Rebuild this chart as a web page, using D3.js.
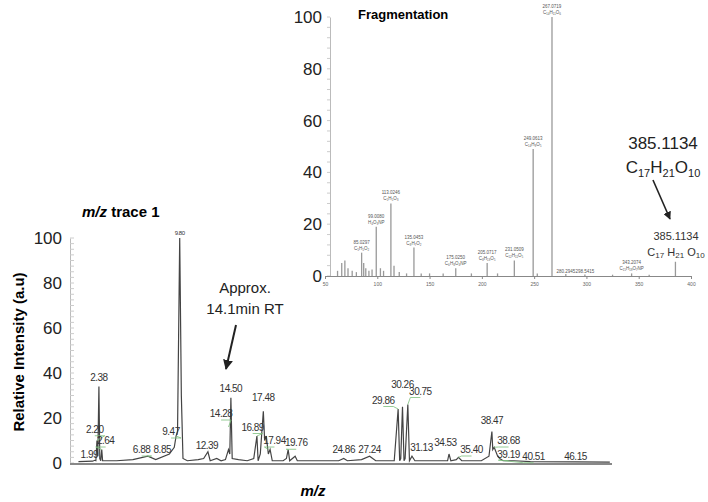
<!DOCTYPE html>
<html><head><meta charset="utf-8">
<script src="https://cdn.jsdelivr.net/npm/d3@7"></script>
<style>body{margin:0;background:#fff}svg{font-family:Arial,"Liberation Sans",sans-serif}</style>
</head><body>
<svg id="c" width="708" height="502"></svg>
<script>
// main chromatogram trace: [retention time, relative intensity]
var trace = [[0.5,0.6],[1.8,0.8],[1.99,1.2],[2.1,1],[2.2,10],[2.28,3],[2.38,34],[2.46,2],[2.55,1],[2.64,6],[2.72,1],
  [4,1],[5.5,1.5],[6.88,3],[7.6,1.5],[8.85,4],[9.3,7],[9.47,12],[9.6,14],[9.8,100],[9.95,30],[10.1,2],[10.5,1],
  [11.5,1.5],[12,2],[12.39,5],[12.6,1],[13.2,2],[13.6,1],[14.0,1.5],[14.28,6],[14.4,4],[14.5,29],[14.62,2],[15.2,1.5],
  [16,1],[16.6,2],[16.89,12],[17.0,1],[17.2,4],[17.48,23],[17.6,10],[17.75,12],[17.94,4],[18.1,6],[18.3,1],[19.3,1],
  [19.6,2],[19.76,6],[19.9,1],[20.4,3],[20.6,1],[23,1],[24.4,1],[24.86,2],[25.2,1],[26.5,1.5],[27.24,3],[27.8,1],
  [29.5,1],[29.86,24],[30.0,1],[30.1,2],[30.26,25],[30.4,1],[30.5,2],[30.75,26],[30.9,1],[31.13,3],[31.4,1],
  [33.5,1],[34.4,1],[34.53,4],[34.7,1],[35.2,1.5],[35.4,2.5],[35.7,1],[37.5,1],[38.2,3],[38.47,14],[38.55,6],
  [38.68,7],[39.0,3],[39.19,2],[39.5,1],[40.51,1],[42,0.6],[46.15,0.5],[49.3,0.4]];

// peak labels: [time, label height, text, leader to (time, value) or null]
var peakLabels = [[1.5,2,"1.99",null],[2.0,13,"2.20",[2.2,10]],[2.38,36,"2.38",null],[3.0,8,"2.64",[2.64,6]],
  [6.3,4,"6.88",[6.88,3]],[8.2,4,"8.85",null],[9.0,12,"9.47",[9.47,12]],[9.8,101,"9.80",null],[12.3,6,"12.39",null],
  [13.6,20,"14.28",[14.28,16]],[14.5,31,"14.50",null],[16.5,14,"16.89",[16.89,12]],[17.48,27,"17.48",null],
  [18.5,8,"17.94",[17.94,6]],[20.5,7,"19.76",[19.76,6]],[24.86,4,"24.86",null],[27.24,4,"27.24",null],
  [28.5,26,"29.86",[29.86,24]],[30.26,33,"30.26",null],[31.9,30,"30.75",[30.75,26]],[32.0,5,"31.13",null],
  [34.2,7,"34.53",null],[36.6,4,"35.40",[35.4,2.5]],[38.47,17,"38.47",null],[40.0,8,"38.68",[38.68,7]],
  [40.0,2,"39.19",[39.19,2]],[42.3,1,"40.51",[39.6,1]],[46.15,1,"46.15",null]];

// fragmentation spectrum: [m/z, relative intensity]
var frag = [[62,2],[66,5],[69,6],[72,3],[76,2],[80,1.5],[85.03,9],[87,5],[89,3],[92,2],[95,2.5],[99.01,19],[103,3],[106,2],
  [113.02,28],[116,4],[121,1.5],[128,1],[135.05,11],[142,1],[150,1],[163,1],[175.03,3],[190,1],[205.07,5],[215,1],
  [231.05,6],[249.06,49],[253,1],[267.07,100],[280.29,0.8],[298.54,0.6],[325,0.5],[343.21,1],[360,0.5],[385.11,5.5]];
// fragment labels: [m/z, intensity of label, mass, formula]
var fragLabels = [[85.03,9,"85.0297","C₅H₅O₂"],[99.01,19,"99.0080","H₄O₃NP"],[113.02,28,"113.0246","C₅H₅O₃"],
  [135.05,11,"135.0453","C₈H₇O₂"],[175.03,3,"175.0250","C₆H₈O₄NP"],[205.07,5,"205.0717","C₈H₁₃O₅"],
  [231.05,6,"231.0509","C₁₂H₁₁O₅"],[249.06,49,"249.0613","C₁₄H₉O₅"],[267.07,100,"267.0719","C₁₄H₁₁O₆"],
  [280.29,0,"280.2945",""],[298.54,0,"298.5415",""],[343.21,1,"343.2074","C₁₅H₁₉O₇NP"]];
var mainYTicks = [0,20,40,60,80,100];
var fragXTicks = [50,100,150,200,250,300,350,400];
var fragYTicks = [0,20,40,60,80,100];

var svg = d3.select("#c");
var x = d3.scaleLinear().domain([0,49.5]).range([73,612]);
var y = d3.scaleLinear().domain([0,100]).range([463,238]);
var fx = d3.scaleLinear().domain([50,400]).range([325,691]);
var fy = d3.scaleLinear().domain([0,100]).range([276,17]);
var grey = "#888";

// inset spectrum
var fyAxis = d3.axisLeft(fy).tickValues(fragYTicks).tickSize(0).tickPadding(8);
var fg = svg.append("g").attr("transform","translate(330,0)").call(fyAxis);
fg.select(".domain").attr("stroke","#bbb");
fg.selectAll("text").attr("font-size",17).attr("fill","#222");
svg.append("g").selectAll("line").data(d3.range(0,101,4)).join("line")
  .attr("x1",327).attr("x2",330).attr("y1",d=>fy(d)).attr("y2",d=>fy(d)).attr("stroke","#ccc");
var fxAxis = d3.axisBottom(fx).tickValues(fragXTicks).tickSize(3);
var fxg = svg.append("g").attr("transform","translate(0,276)").call(fxAxis);
fxg.select(".domain").attr("stroke",grey);
fxg.selectAll("line").attr("stroke",grey);
fxg.selectAll("text").attr("font-size",5).attr("fill","#666");
svg.append("g").selectAll("line").data(frag).join("line")
  .attr("x1",d=>fx(d[0])).attr("x2",d=>fx(d[0])).attr("y1",fy(0)).attr("y2",d=>fy(d[1]))
  .attr("stroke","#999").attr("stroke-width",1.3);
var fl = svg.append("g").selectAll("g").data(fragLabels).join("g")
  .attr("transform",d=>"translate("+fx(d[0])+","+(fy(d[1])-3)+")").attr("fill","#555").attr("font-size",4.5).attr("text-anchor","middle");
fl.append("text").attr("y",d=>d[3]?-6:0).text(d=>d[2]);
fl.append("text").text(d=>d[3]);
svg.append("text").attr("x",358).attr("y",19).attr("font-size",13).attr("font-weight","bold").text("Fragmentation");
svg.append("text").attr("x",676).attr("y",240).attr("text-anchor","middle").attr("font-size",11).attr("fill","#333").text("385.1134");
svg.append("text").attr("x",676).attr("y",256).attr("text-anchor","middle").attr("font-size",11).attr("fill","#333")
  .html('C<tspan font-size="8" dy="2">17</tspan><tspan dy="-2"> H</tspan><tspan font-size="8" dy="2">21</tspan><tspan dy="-2"> O</tspan><tspan font-size="8" dy="2">10</tspan>');
svg.append("text").attr("x",663).attr("y",149).attr("text-anchor","middle").attr("font-size",17).attr("fill","#222").text("385.1134");
svg.append("text").attr("x",663).attr("y",173).attr("text-anchor","middle").attr("font-size",17).attr("fill","#222")
  .html('C<tspan font-size="11" dy="4">17</tspan><tspan dy="-4">H</tspan><tspan font-size="11" dy="4">21</tspan><tspan dy="-4">O</tspan><tspan font-size="11" dy="4">10</tspan>');

// arrows
var defs = svg.append("defs");
defs.append("marker").attr("id","ah").attr("viewBox","0 0 10 10").attr("refX",9).attr("refY",5)
  .attr("markerWidth",5).attr("markerHeight",5).attr("orient","auto")
  .append("path").attr("d","M0,0L10,5L0,10z").attr("fill","#222");
svg.append("line").attr("x1",653).attr("y1",180).attr("x2",670).attr("y2",219).attr("stroke","#222").attr("stroke-width",1.6).attr("marker-end","url(#ah)");
svg.append("line").attr("x1",236).attr("y1",325).attr("x2",226).attr("y2",369).attr("stroke","#222").attr("stroke-width",2).attr("marker-end","url(#ah)");

// main chromatogram
var yAxis = d3.axisLeft(y).tickValues(mainYTicks).tickSize(0).tickPadding(8);
var yg = svg.append("g").attr("transform","translate(70,0)").call(yAxis);
yg.select(".domain").attr("stroke","#bbb");
yg.selectAll("text").attr("font-size",17).attr("fill","#222");
svg.append("g").selectAll("line").data(d3.range(0,101,2.5)).join("line")
  .attr("x1",70).attr("x2",74).attr("y1",d=>y(d)).attr("y2",d=>y(d)).attr("stroke","#ccc");
svg.append("line").attr("x1",70).attr("x2",612).attr("y1",y(0)+1).attr("y2",y(0)+1).attr("stroke",grey).attr("stroke-width",2);
var line = d3.line().x(d=>x(d[0])).y(d=>y(d[1]));
svg.append("path").datum(trace).attr("d",line).attr("fill","none").attr("stroke","#444").attr("stroke-width",1.2);
var pl = svg.append("g");
pl.selectAll("path").data(peakLabels.filter(d=>d[3])).join("path")
  .attr("d",d=>"M"+x(d[0])+","+(y(d[1])+2)+"H"+(x(d[0])+(d[3][0]>d[0]?10:-10))+"L"+x(d[3][0])+","+y(d[3][1]))
  .attr("fill","none").attr("stroke","#7bbf7b").attr("stroke-width",0.8);
pl.selectAll("text").data(peakLabels).join("text")
  .attr("x",d=>x(d[0])).attr("y",d=>y(d[1])-1).attr("text-anchor","middle")
  .attr("font-size",d=>d[2]=="9.80"?6:10).attr("fill","#333").attr("letter-spacing",-0.5).text(d=>d[2]);

svg.append("text").attr("x",82).attr("y",217).attr("font-size",15).attr("font-weight","bold")
  .html('<tspan font-style="italic">m/z</tspan> trace 1');
svg.append("text").attr("x",245).attr("y",293).attr("text-anchor","middle").attr("font-size",15).attr("fill","#222").text("Approx.");
svg.append("text").attr("x",245).attr("y",314).attr("text-anchor","middle").attr("font-size",15).attr("fill","#222").text("14.1min RT");
svg.append("text").attr("x",313).attr("y",496).attr("text-anchor","middle").attr("font-size",15).attr("font-weight","bold").attr("font-style","italic").text("m/z");
svg.append("text").attr("transform","translate(24,352) rotate(-90)").attr("text-anchor","middle").attr("font-size",15).attr("font-weight","bold").text("Relative Intensity (a.u)");
</script>
</body></html>
